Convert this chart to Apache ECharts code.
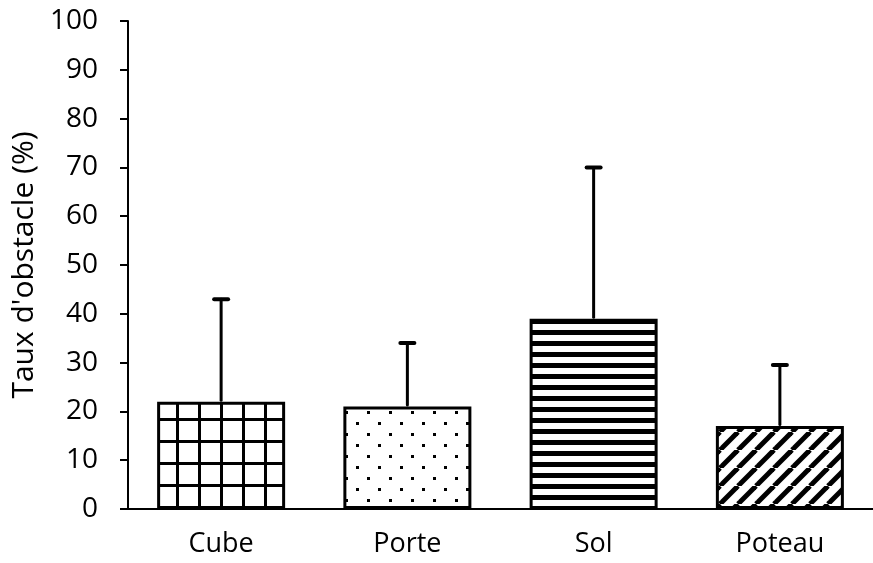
<!DOCTYPE html>
<html>
<head>
<meta charset="utf-8">
<script src="https://cdn.jsdelivr.net/npm/echarts@6/dist/echarts.min.js"></script>
<style>
  html, body { margin: 0; padding: 0; background: #fff; }
  #chart { width: 873px; height: 563px; }
</style>
</head>
<body>
<div id="chart"></div>
<script>
// données
const categories = ['Cube', 'Porte', 'Sol', 'Poteau']
const moyennes = [22, 21, 39, 17]
const ecarts = [21, 13, 31, 12.5]
const yTicks = [0, 10, 20, 30, 40, 50, 60, 70, 80, 90, 100]

// motifs de remplissage (hachures)
function makeTile(w, h, draw) {
  const c = document.createElement('canvas')
  c.width = w
  c.height = h
  const ctx = c.getContext('2d')
  ctx.fillStyle = '#fff'
  ctx.fillRect(0, 0, w, h)
  ctx.fillStyle = '#000'
  ctx.strokeStyle = '#000'
  draw(ctx)
  return c
}

const patGrid = makeTile(22, 22, ctx => {
  ctx.fillRect(0, 0, 3, 22)
  ctx.fillRect(0, 0, 22, 3)
})
const patDots = makeTile(22, 22, ctx => {
  ctx.fillRect(4, 4, 3, 3)
  ctx.fillRect(15, 15, 3, 3)
})
const patHoriz = makeTile(8, 11, ctx => {
  ctx.fillRect(0, 0, 8, 5)
})
const patDiag = makeTile(18, 18, ctx => {
  ctx.lineWidth = 5
  for (let k = -1; k <= 1; k++) {
    ctx.beginPath()
    ctx.moveTo(k * 18, 18)
    ctx.lineTo(k * 18 + 18, 0)
    ctx.stroke()
  }
})
const patterns = [patGrid, patDots, patHoriz, patDiag]

const chart = echarts.init(document.getElementById('chart'))

const barData = moyennes.map((v, i) => ({
  value: v,
  itemStyle: {
    color: { image: patterns[i], repeat: 'repeat' },
    borderColor: '#000',
    borderWidth: 3
  }
}))

const errData = moyennes.map((v, i) => [i, v, v + ecarts[i]])

const option = {
  animation: false,
  backgroundColor: '#fff',
  grid: { left: 128, top: 21, bottom: 54, width: 752 },
  xAxis: {
    type: 'category',
    data: categories,
    axisLine: { lineStyle: { color: '#000', width: 2 } },
    axisTick: { show: false },
    axisLabel: { color: '#000', fontSize: 27, fontFamily: 'Open Sans', margin: 22 }
  },
  yAxis: {
    type: 'value',
    min: 0,
    max: 100,
    interval: 10,
    name: "Taux d'obstacle (%)",
    nameLocation: 'middle',
    nameGap: 86,
    nameRotate: 90,
    nameTextStyle: { color: '#000', fontSize: 30, fontFamily: 'Open Sans' },
    axisLine: { show: true, lineStyle: { color: '#000', width: 2 } },
    axisTick: { show: true, length: 8, lineStyle: { color: '#000', width: 2 } },
    axisLabel: {
      color: '#000', fontSize: 28, fontFamily: 'Open Sans', margin: 30,
      formatter: v => (yTicks.indexOf(v) >= 0 ? String(v) : '')
    },
    splitLine: { show: false }
  },
  series: [
    {
      type: 'bar',
      data: barData,
      barWidth: 128,
      z: 2
    },
    {
      type: 'custom',
      data: errData,
      z: 3,
      renderItem: (params, api) => {
        const base = api.coord([api.value(0), api.value(1)])
        const top = api.coord([api.value(0), api.value(2)])
        const style = { stroke: '#000', lineWidth: 3, lineCap: 'round' }
        return {
          type: 'group',
          children: [
            { type: 'line', shape: { x1: top[0], y1: base[1] - 1.5, x2: top[0], y2: top[1] }, style },
            { type: 'line', shape: { x1: top[0] - 7, y1: top[1], x2: top[0] + 7, y2: top[1] }, style: { stroke: '#000', lineWidth: 4, lineCap: 'round' } }
          ]
        }
      }
    }
  ]
}

chart.setOption(option)
</script>
</body>
</html>
